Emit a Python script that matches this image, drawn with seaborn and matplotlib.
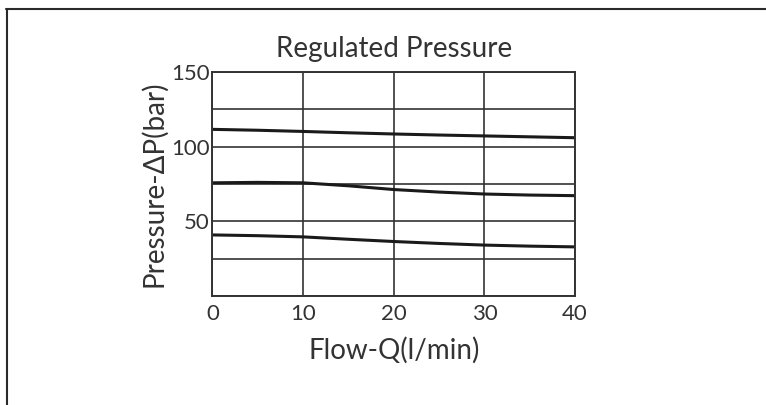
import numpy as np
import pandas as pd
import matplotlib
matplotlib.use("Agg")
import matplotlib.pyplot as plt
import seaborn as sns
from matplotlib.lines import Line2D

# Data
flow = [0, 5, 10, 15, 20, 25, 30, 35, 40]
high = [111.6, 111.0, 110.2, 109.3, 108.5, 107.8, 107.2, 106.6, 106.0]
mid = [75.8, 76.1, 75.8, 73.8, 71.3, 69.6, 68.3, 67.6, 67.2]
low = [40.9, 40.4, 39.6, 38.0, 36.5, 35.2, 34.1, 33.4, 32.9]

x_ticks = [0, 10, 20, 30, 40]
y_ticks = [0, 25, 50, 75, 100, 125, 150]
y_labels = ["", "", "50", "", "100", "", "150"]

df = pd.DataFrame({
    "flow": flow * 3,
    "pressure": high + mid + low,
    "curve": ["high"] * len(flow) + ["mid"] * len(flow) + ["low"] * len(flow),
})

sns.set_style("white")
plt.rcParams["font.family"] = ["Lato", "DejaVu Sans"]
text_col = "#333333"

fig = plt.figure(figsize=(7.66, 4.05), dpi=100)
ax = fig.add_axes([0.2774, 0.2691, 0.4733, 0.5531])

sns.lineplot(data=df, x="flow", y="pressure", units="curve", estimator=None,
             color="#1a1a1a", linewidth=2.2, ax=ax)

ax.set_xlim(0, 40)
ax.set_ylim(0, 150)
ax.set_xticks(x_ticks)
ax.set_yticks(y_ticks)
ax.set_yticklabels(y_labels)
ax.grid(True, color="#333333", linewidth=1.2)
for s in ax.spines.values():
    s.set_color("#333333")
    s.set_linewidth(1.4)
ax.tick_params(axis="y", length=0, labelsize=16, labelcolor=text_col, pad=2)
ax.tick_params(axis="x", length=0, labelsize=16, labelcolor=text_col, pad=6)

ax.set_title("Regulated Pressure", fontsize=20, color=text_col, pad=11)
ax.set_xlabel("Flow-Q(l/min)", fontsize=20, color=text_col, labelpad=9)
ax.set_ylabel("Pressure-\u0394P(bar)", fontsize=20, color=text_col, labelpad=3)

# outer frame (top and left edges only)
fig.add_artist(Line2D([6 / 766, 1], [1 - 8.5 / 405, 1 - 8.5 / 405],
                      transform=fig.transFigure, color="#2a2a2a", linewidth=1.5))
fig.add_artist(Line2D([6.5 / 766, 6.5 / 766], [0, 1 - 8.5 / 405],
                      transform=fig.transFigure, color="#2a2a2a", linewidth=1.5))

fig.savefig("out.png", dpi=100)
plt.close()
